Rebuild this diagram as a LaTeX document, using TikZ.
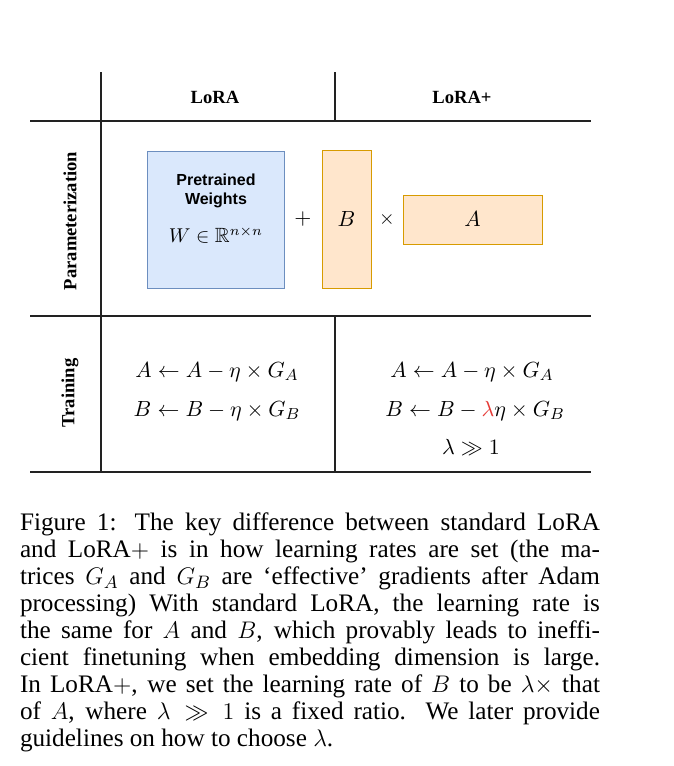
\documentclass[tikz,border=0pt]{standalone}
\usepackage{fontspec}
\setmainfont{Liberation Serif}
\newfontfamily\drawiofont{Liberation Sans}
\usepackage{amsmath, amssymb}
\usetikzlibrary{positioning, calc}
\definecolor{wfill}{HTML}{DAE8FC}
\definecolor{wdraw}{HTML}{6C8EBF}
\definecolor{lfill}{HTML}{FFE6CC}
\definecolor{ldraw}{HTML}{D79B00}
\definecolor{lamred}{HTML}{E53935}
\definecolor{rulecol}{HTML}{222222}

\begin{document}
\begin{tikzpicture}[
  x=0.5pt, y=-0.5pt,
  every node/.style={inner sep=0pt, outer sep=0pt},
  rule/.style={draw=rulecol, line width=0.7pt},
  hdr/.style={font=\fontsize{9.3}{11}\selectfont\bfseries},
  rowlab/.style={font=\fontsize{9.3}{11}\selectfont\bfseries, rotate=90},
  wbox/.style={rectangle, draw=wdraw, fill=wfill, line width=0.5pt,
               minimum width=68.5pt, minimum height=68.5pt},
  wlab/.style={font=\drawiofont\fontsize{8}{9.5}\selectfont\bfseries, align=center},
  lrbox/.style={rectangle, draw=ldraw, fill=lfill, line width=0.5pt,
                font=\fontsize{10.5}{12}\selectfont},
  upd/.style={font=\fontsize{11}{13}\selectfont},
  caption/.style={anchor=north west, text width=290pt, align=justify,
                  font=\fontsize{12.6}{13.47}\selectfont},
]
  \useasboundingbox (0,0) rectangle (674,766);

  % table rules
  \draw[rule] (101,72) -- (101,472);
  \draw[rule] (335,72) -- (335,121);
  \draw[rule] (335,316) -- (335,472);
  \foreach \yy in {121,316,472}
    \draw[rule] (30,\yy) -- (591,\yy);

  % headers
  \node[hdr] (lora) at (215,97) {LoRA};
  \node[hdr] (loraplus) at (462,97) {LoRA+};
  \node[rowlab] (param) at (70,221) {Parameterization};
  \node[rowlab] (train) at (70,393) {Training};

  % parameterization
  \node[wbox] (W) at (215.5,219.5) {};
  \node[wlab] (pre) at (216,191) {Pretrained\\Weights};
  \node[font=\fontsize{10.3}{12}\selectfont] (wdim) at (216,235) {$W \in \mathbb{R}^{n\times n}$};
  \node[lrbox, minimum width=24.5pt, minimum height=69pt, right=19pt of W] (B) {$B$};
  \node[lrbox, minimum width=69.5pt, minimum height=24.5pt, right=16pt of B] (A) {$A$};
  \node[upd] (plus) at ($(W.east)!0.5!(B.west)$) {$+$};
  \node[font=\fontsize{10}{12}\selectfont] (times) at ($(B.east)!0.5!(A.west)$) {$\times$};

  % training
  \node[upd] (la) at (217,372) {$A \leftarrow A - \eta \times G_A$};
  \node[upd] (lb) at (217,411) {$B \leftarrow B - \eta \times G_B$};
  \node[upd] (ra) at (472,372) {$A \leftarrow A - \eta \times G_A$};
  \node[upd] (rb) at (475,411) {$B \leftarrow B - {\color{lamred}\lambda} \eta \times G_B$};
  \node[upd] (rl) at (471,447) {$\lambda \gg 1$};

  % caption
  \node[caption] (cap) at (20,513) {Figure 1: The key difference between standard LoRA\linebreak
    and LoRA$+$ is in how learning rates are set (the ma-\linebreak
    trices $G_A$ and $G_B$ are `effective' gradients after Adam\linebreak
    processing) With standard LoRA, the learning rate is\linebreak
    the same for $A$ and $B$, which provably leads to ineffi-\linebreak
    cient finetuning when embedding dimension is large.\linebreak
    In LoRA$+$, we set the learning rate of $B$ to be $\lambda\times$ that\linebreak
    of $A$, where $\lambda \gg 1$ is a fixed ratio.\ \ We later provide\linebreak
    guidelines on how to choose $\lambda$.};
\end{tikzpicture}
\end{document}
